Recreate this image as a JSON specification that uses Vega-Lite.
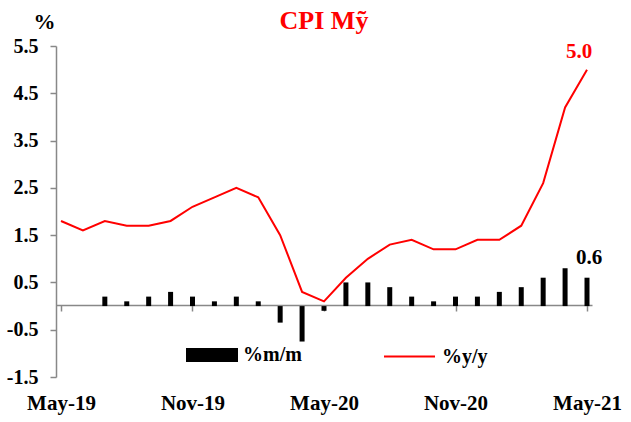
{
  "$schema": "https://vega.github.io/schema/vega-lite/v6.json",
  "width": 536,
  "height": 331,
  "autosize": {"type": "none"},
  "padding": {"left": 56, "top": 46, "right": 39, "bottom": 45},
  "background": "white",
  "config": {"view": {"stroke": null}, "font": "Liberation Serif"},
  "title": {"text": "CPI Mỹ", "color": "#ff0000", "fontSize": 26, "font": "Liberation Serif", "fontWeight": "bold", "anchor": "middle", "frame": "group", "offset": -24},
  "data": {"values": [
    {"i": 0, "month": "May-19", "yy": 1.8, "mm": null},
    {"i": 1, "month": "Jun-19", "yy": 1.6, "mm": null},
    {"i": 2, "month": "Jul-19", "yy": 1.8, "mm": 0.2},
    {"i": 3, "month": "Aug-19", "yy": 1.7, "mm": 0.1},
    {"i": 4, "month": "Sep-19", "yy": 1.7, "mm": 0.2},
    {"i": 5, "month": "Oct-19", "yy": 1.8, "mm": 0.3},
    {"i": 6, "month": "Nov-19", "yy": 2.1, "mm": 0.2},
    {"i": 7, "month": "Dec-19", "yy": 2.3, "mm": 0.1},
    {"i": 8, "month": "Jan-20", "yy": 2.5, "mm": 0.2},
    {"i": 9, "month": "Feb-20", "yy": 2.3, "mm": 0.1},
    {"i": 10, "month": "Mar-20", "yy": 1.5, "mm": -0.35},
    {"i": 11, "month": "Apr-20", "yy": 0.3, "mm": -0.75},
    {"i": 12, "month": "May-20", "yy": 0.1, "mm": -0.1},
    {"i": 13, "month": "Jun-20", "yy": 0.6, "mm": 0.5},
    {"i": 14, "month": "Jul-20", "yy": 1.0, "mm": 0.5},
    {"i": 15, "month": "Aug-20", "yy": 1.3, "mm": 0.4},
    {"i": 16, "month": "Sep-20", "yy": 1.4, "mm": 0.2},
    {"i": 17, "month": "Oct-20", "yy": 1.2, "mm": 0.1},
    {"i": 18, "month": "Nov-20", "yy": 1.2, "mm": 0.2},
    {"i": 19, "month": "Dec-20", "yy": 1.4, "mm": 0.2},
    {"i": 20, "month": "Jan-21", "yy": 1.4, "mm": 0.3},
    {"i": 21, "month": "Feb-21", "yy": 1.7, "mm": 0.4},
    {"i": 22, "month": "Mar-21", "yy": 2.6, "mm": 0.6},
    {"i": 23, "month": "Apr-21", "yy": 4.2, "mm": 0.8},
    {"i": 24, "month": "May-21", "yy": 5.0, "mm": 0.6}
  ]},
  "encoding": {
    "x": {
      "field": "i", "type": "quantitative",
      "scale": {"domain": [0, 24], "nice": false, "zero": false},
      "axis": {
        "title": null, "grid": false, "values": [0, 6, 12, 18, 24],
        "labelExpr": "['May-19','Nov-19','May-20','Nov-20','May-21'][datum.value/6]",
        "offset": -72, "tickSize": 6, "domainColor": "#888888", "tickColor": "#888888",
        "domainWidth": 1.5, "tickWidth": 1.5,
        "labelPadding": 98, "labelBaseline": "alphabetic", "labelFont": "Liberation Serif", "labelFontWeight": "bold",
        "labelFontSize": 21, "labelColor": "black", "labelFlush": false
      }
    }
  },
  "layer": [
    {
      "mark": {"type": "bar", "size": 5},
      "encoding": {
        "y": {
          "field": "mm", "type": "quantitative",
          "scale": {"domain": [-1.5, 5.5], "nice": false, "zero": false},
          "axis": {
            "values": [-1.5, -0.5, 0.5, 1.5, 2.5, 3.5, 4.5, 5.5],
            "labelExpr": "(datum.value < 0 ? '-' : '') + format(abs(datum.value), '.1f')",
            "grid": false, "domainColor": "#888888", "tickColor": "#888888", "tickSize": 6,
            "domainWidth": 1.5, "tickWidth": 1.5,
            "labelFont": "Liberation Serif", "labelFontWeight": "bold", "labelFontSize": 20,
            "labelColor": "black", "labelPadding": 12,
            "title": "%", "titleAngle": 0, "titleX": -12, "titleY": -18, "titleFontSize": 22,
            "titleFontWeight": "bold", "titleFont": "Liberation Serif", "titleAlign": "center",
            "titleBaseline": "alphabetic", "titleColor": "black"
          }
        },
        "fill": {
          "datum": "%m/m", "type": "nominal",
          "scale": {"range": ["black"]},
          "legend": {
            "title": null, "orient": "none", "legendX": 130, "legendY": 283,
            "symbolType": "M-1,-0.27H1V0.27H-1Z", "symbolSize": 2704, "symbolStrokeWidth": 0,
            "labelFont": "Liberation Serif", "labelFontWeight": "bold", "labelFontSize": 20,
            "labelColor": "black", "labelOffset": 5
          }
        }
      }
    },
    {
      "mark": {"type": "line", "strokeWidth": 2},
      "encoding": {
        "y": {"field": "yy", "type": "quantitative"},
        "stroke": {
          "datum": "%y/y", "type": "nominal",
          "scale": {"range": ["#ff0000"]},
          "legend": {
            "title": null, "orient": "none", "legendX": 327, "legendY": 284,
            "symbolType": "M-1,0H1", "symbolSize": 2601, "symbolStrokeWidth": 2,
            "labelFont": "Liberation Serif", "labelFontWeight": "bold", "labelFontSize": 20,
            "labelColor": "black", "labelOffset": 6
          }
        }
      }
    },
    {
      "transform": [{"filter": "datum.i == 24"}],
      "mark": {"type": "text", "dy": -12, "dx": -8, "baseline": "alphabetic", "color": "#ff0000", "fontWeight": "bold", "fontSize": 21, "font": "Liberation Serif"},
      "encoding": {
        "y": {"field": "yy", "type": "quantitative"},
        "text": {"field": "yy", "type": "quantitative", "format": ".1f"}
      }
    },
    {
      "transform": [{"filter": "datum.i == 24"}],
      "mark": {"type": "text", "dy": -14, "dx": 2, "baseline": "alphabetic", "color": "black", "fontWeight": "bold", "fontSize": 21, "font": "Liberation Serif"},
      "encoding": {
        "y": {"field": "mm", "type": "quantitative"},
        "text": {"field": "mm", "type": "quantitative", "format": ".1f"}
      }
    }
  ]
}
